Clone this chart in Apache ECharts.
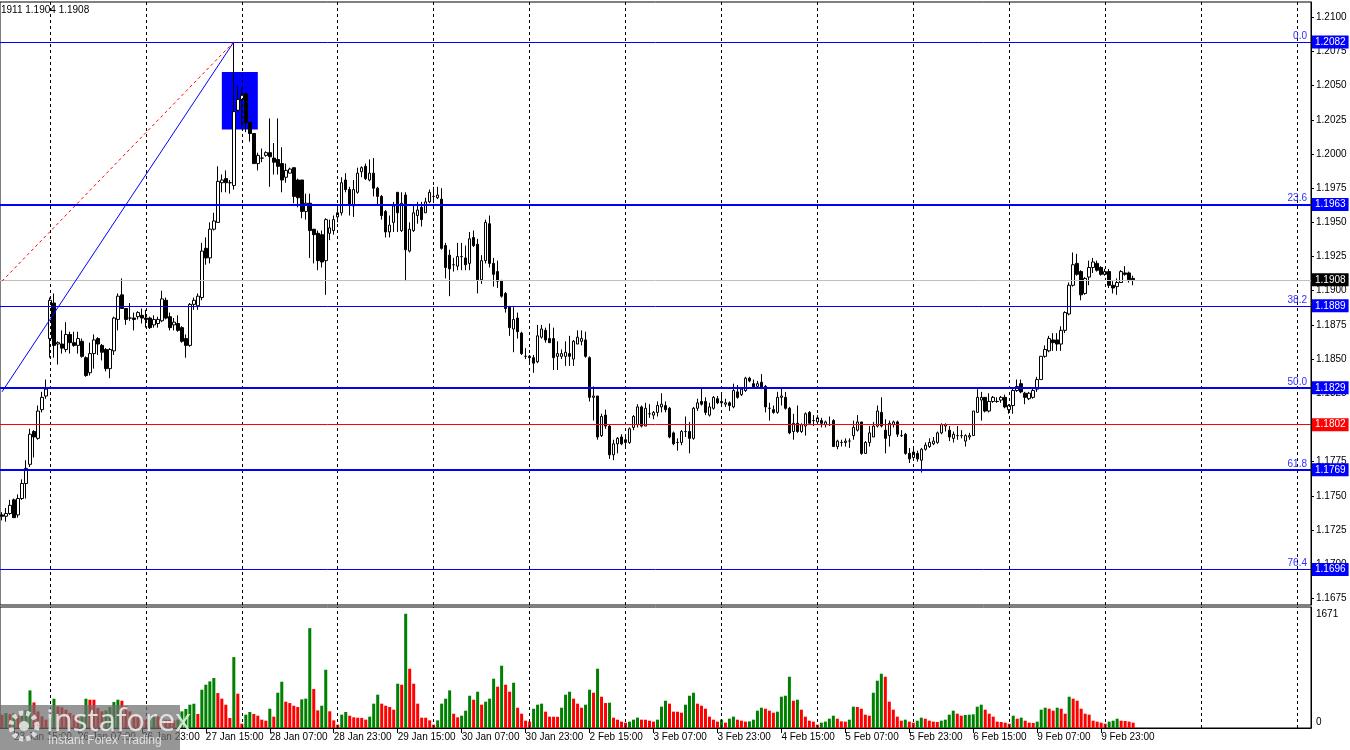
<!DOCTYPE html>
<html>
<head>
<meta charset="utf-8">
<title>EURUSD H1</title>
<script src="https://cdn.jsdelivr.net/npm/echarts@6/dist/echarts.min.js"></script>
<style>
  html, body { margin: 0; padding: 0; background: #fff; }
  #chart { width: 1350px; height: 750px; }
</style>
</head>
<body>
<div id="chart"></div>
<script>
// H1 bars: 23 Jan 12:00 .. 10 Feb 07:00 (weekends skipped)
const days = ['23 Jan', '26 Jan', '27 Jan', '28 Jan', '29 Jan', '30 Jan',
  '2 Feb', '3 Feb', '4 Feb', '5 Feb', '6 Feb', '9 Feb', '10 Feb']
const firstHour = 12
const lastHour = 7

const opens = [
  1.1736,1.1735,1.1737,1.1747,1.1736,1.1748,1.1759,1.1773,1.1797,1.1792,1.1813,1.1823,
  1.1865,1.1891,1.1861,1.1861,1.1857,1.1868,1.1862,1.1860,1.1863,1.1851,1.1840,1.1854,
  1.1865,1.1860,1.1857,1.1843,1.1856,1.1879,1.1897,1.1887,1.1880,1.1880,1.1881,1.1882,
  1.1880,1.1880,1.1875,1.1876,1.1878,1.1893,1.1881,1.1875,1.1876,1.1873,1.1865,1.1860,
  1.1890,1.1889,1.1895,1.1931,1.1924,1.1945,1.1950,1.1979,1.1982,1.1979,1.1977,1.2032,
  1.2040,1.2044,1.2023,1.2015,1.1993,1.1997,1.1999,1.2001,1.1997,1.1996,1.1993,1.1983,
  1.1986,1.1990,1.1981,1.1981,1.1958,1.1964,1.1945,1.1942,1.1941,1.1922,1.1942,1.1944,
  1.1954,1.1957,1.1981,1.1974,1.1962,1.1972,1.1987,1.1991,1.1981,1.1986,1.1975,1.1969,
  1.1958,1.1943,1.1950,1.1972,1.1944,1.1970,1.1929,1.1944,1.1955,1.1961,1.1957,1.1965,
  1.1969,1.1968,1.1967,1.1933,1.1926,1.1919,1.1918,1.1925,1.1924,1.1920,1.1939,1.1934,
  1.1908,1.1922,1.1949,1.1920,1.1914,1.1907,1.1898,1.1888,1.1872,1.1880,1.1869,1.1852,
  1.1852,1.1851,1.1848,1.1866,1.1871,1.1865,1.1865,1.1852,1.1852,1.1852,1.1854,1.1850,
  1.1861,1.1863,1.1864,1.1851,1.1822,1.1823,1.1794,1.1809,1.1801,1.1780,1.1788,1.1793,
  1.1789,1.1789,1.1800,1.1802,1.1815,1.1801,1.1810,1.1809,1.1811,1.1815,1.1816,1.1814,
  1.1796,1.1789,1.1789,1.1797,1.1797,1.1792,1.1814,1.1819,1.1819,1.1809,1.1814,1.1821,
  1.1819,1.1817,1.1818,1.1815,1.1826,1.1824,1.1827,1.1836,1.1832,1.1830,1.1833,1.1830,
  1.1814,1.1813,1.1811,1.1822,1.1822,1.1814,1.1797,1.1803,1.1797,1.1801,1.1811,1.1805,
  1.1804,1.1805,1.1802,1.1802,1.1805,1.1786,1.1789,1.1789,1.1790,1.1794,1.1798,1.1804,
  1.1781,1.1789,1.1793,1.1801,1.1811,1.1798,1.1794,1.1802,1.1804,1.1794,1.1795,1.1781,
  1.1778,1.1781,1.1776,1.1784,1.1786,1.1788,1.1789,1.1796,1.1801,1.1798,1.1792,1.1794,
  1.1794,1.1790,1.1793,1.1794,1.1811,1.1820,1.1822,1.1812,1.1819,1.1819,1.1820,1.1822,
  1.1813,1.1816,1.1827,1.1832,1.1825,1.1821,1.1822,1.1828,1.1835,1.1852,1.1856,1.1864,
  1.1864,1.1861,1.1871,1.1883,1.1904,1.1920,1.1914,1.1898,1.1910,1.1917,1.1920,1.1917,
  1.1912,1.1914,1.1904,1.1903,1.1906,1.1913,1.1913,1.1909
]
const closes = [
  1.1735,1.1737,1.1743,1.1734,1.1748,1.1759,1.1770,1.1795,1.1793,1.1812,1.1822,1.1828,
  1.1893,1.1860,1.1862,1.1858,1.1868,1.1862,1.1860,1.1865,1.1852,1.1838,1.1854,1.1864,
  1.1861,1.1855,1.1843,1.1857,1.1880,1.1896,1.1887,1.1879,1.1880,1.1879,1.1884,1.1880,
  1.1879,1.1873,1.1879,1.1879,1.1894,1.1880,1.1873,1.1877,1.1871,1.1863,1.1860,1.1890,
  1.1893,1.1896,1.1929,1.1924,1.1945,1.1951,1.1980,1.1981,1.1979,1.1979,1.2031,1.2040,
  1.2043,1.2023,1.2015,1.1993,1.1999,1.1997,1.2001,1.1998,1.1994,1.1991,1.1981,1.1988,
  1.1989,1.1969,1.1968,1.1958,1.1964,1.1944,1.1941,1.1922,1.1921,1.1952,1.1946,1.1952,
  1.1957,1.1979,1.1974,1.1963,1.1974,1.1986,1.1990,1.1982,1.1986,1.1975,1.1969,1.1955,
  1.1943,1.1948,1.1962,1.1957,1.1964,1.1930,1.1945,1.1957,1.1959,1.1952,1.1965,1.1972,
  1.1969,1.1970,1.1931,1.1917,1.1916,1.1919,1.1925,1.1925,1.1919,1.1938,1.1933,1.1908,
  1.1922,1.1950,1.1920,1.1912,1.1907,1.1896,1.1887,1.1873,1.1879,1.1870,1.1854,1.1852,
  1.1851,1.1847,1.1867,1.1872,1.1864,1.1862,1.1851,1.1854,1.1854,1.1855,1.1852,1.1863,
  1.1866,1.1865,1.1852,1.1822,1.1823,1.1793,1.1808,1.1801,1.1780,1.1788,1.1792,1.1788,
  1.1791,1.1799,1.1808,1.1815,1.1801,1.1814,1.1810,1.1811,1.1816,1.1817,1.1813,1.1793,
  1.1788,1.1789,1.1797,1.1797,1.1792,1.1814,1.1818,1.1817,1.1811,1.1815,1.1822,1.1818,
  1.1818,1.1818,1.1816,1.1827,1.1822,1.1828,1.1836,1.1834,1.1829,1.1832,1.1829,1.1815,
  1.1814,1.1811,1.1822,1.1823,1.1814,1.1796,1.1803,1.1797,1.1802,1.1810,1.1803,1.1805,
  1.1807,1.1803,1.1804,1.1802,1.1786,1.1790,1.1789,1.1790,1.1790,1.1800,1.1804,1.1781,
  1.1789,1.1796,1.1801,1.1812,1.1801,1.1792,1.1803,1.1804,1.1795,1.1794,1.1781,1.1777,
  1.1782,1.1777,1.1784,1.1787,1.1789,1.1790,1.1796,1.1802,1.1802,1.1793,1.1795,1.1794,
  1.1794,1.1794,1.1794,1.1812,1.1822,1.1822,1.1812,1.1819,1.1822,1.1819,1.1822,1.1815,
  1.1816,1.1827,1.1830,1.1826,1.1822,1.1825,1.1827,1.1835,1.1852,1.1857,1.1865,1.1862,
  1.1861,1.1871,1.1884,1.1904,1.1919,1.1912,1.1897,1.1909,1.1917,1.1921,1.1915,1.1912,
  1.1914,1.1904,1.1902,1.1906,1.1914,1.1912,1.1908,1.1908
]
const lows = [
  1.1732,1.1731,1.1736,1.1734,1.1734,1.1747,1.1748,1.1771,1.1778,1.1791,1.1811,1.1821,
  1.1851,1.1851,1.1846,1.1854,1.1855,1.1854,1.1859,1.1854,1.1851,1.1837,1.1838,1.1843,
  1.1853,1.1849,1.1841,1.1836,1.1853,1.1871,1.1887,1.1875,1.1878,1.1871,1.1879,1.1876,
  1.1873,1.1872,1.1873,1.1873,1.1877,1.1879,1.1871,1.1871,1.1870,1.1862,1.1851,1.1859,
  1.1886,1.1886,1.1893,1.1919,1.1920,1.1944,1.1950,1.1972,1.1972,1.1971,1.1974,1.2031,
  1.2020,1.2016,1.2009,1.1993,1.1988,1.1994,1.1998,1.1976,1.1985,1.1985,1.1972,1.1979,
  1.1986,1.1964,1.1961,1.1953,1.1952,1.1924,1.1920,1.1915,1.1917,1.1897,1.1937,1.1941,
  1.1950,1.1955,1.1972,1.1955,1.1954,1.1971,1.1983,1.1981,1.1980,1.1969,1.1963,1.1952,
  1.1939,1.1939,1.1943,1.1943,1.1943,1.1907,1.1928,1.1943,1.1949,1.1947,1.1957,1.1964,
  1.1964,1.1967,1.1930,1.1909,1.1896,1.1914,1.1915,1.1915,1.1915,1.1915,1.1932,1.1898,
  1.1905,1.1920,1.1917,1.1903,1.1902,1.1895,1.1884,1.1867,1.1855,1.1865,1.1853,1.1850,
  1.1846,1.1840,1.1847,1.1865,1.1862,1.1862,1.1842,1.1842,1.1850,1.1845,1.1845,1.1845,
  1.1861,1.1860,1.1851,1.1819,1.1805,1.1791,1.1793,1.1799,1.1777,1.1776,1.1781,1.1787,
  1.1786,1.1788,1.1798,1.1800,1.1800,1.1801,1.1807,1.1806,1.1808,1.1811,1.1811,1.1792,
  1.1787,1.1783,1.1787,1.1793,1.1781,1.1791,1.1812,1.1816,1.1809,1.1808,1.1813,1.1817,
  1.1816,1.1815,1.1812,1.1814,1.1821,1.1823,1.1826,1.1833,1.1829,1.1829,1.1828,1.1811,
  1.1805,1.1810,1.1810,1.1816,1.1813,1.1795,1.1791,1.1796,1.1796,1.1794,1.1803,1.1801,
  1.1803,1.1800,1.1800,1.1801,1.1786,1.1784,1.1786,1.1786,1.1785,1.1791,1.1797,1.1780,
  1.1781,1.1786,1.1793,1.1800,1.1800,1.1781,1.1786,1.1800,1.1793,1.1793,1.1780,1.1774,
  1.1776,1.1775,1.1767,1.1783,1.1785,1.1787,1.1788,1.1795,1.1797,1.1790,1.1789,1.1791,
  1.1792,1.1786,1.1791,1.1794,1.1811,1.1805,1.1811,1.1811,1.1818,1.1818,1.1818,1.1814,
  1.1810,1.1810,1.1826,1.1825,1.1817,1.1820,1.1821,1.1826,1.1835,1.1851,1.1855,1.1856,
  1.1856,1.1856,1.1869,1.1882,1.1903,1.1911,1.1893,1.1897,1.1904,1.1913,1.1914,1.1911,
  1.1911,1.1902,1.1898,1.1897,1.1906,1.1911,1.1906,1.1904
]
const highs = [
  1.1738,1.1741,1.1747,1.1748,1.1751,1.1762,1.1776,1.1799,1.1798,1.1816,1.1826,1.1835,
  1.1895,1.1898,1.1863,1.1871,1.1877,1.1870,1.1870,1.1870,1.1865,1.1852,1.1862,1.1868,
  1.1866,1.1861,1.1858,1.1858,1.1881,1.1898,1.1909,1.1887,1.1891,1.1884,1.1885,1.1887,
  1.1886,1.1881,1.1882,1.1881,1.1900,1.1895,1.1884,1.1880,1.1882,1.1874,1.1868,1.1891,
  1.1895,1.1898,1.1935,1.1939,1.1950,1.1957,1.1991,1.1985,1.1988,1.1981,1.2082,1.2050,
  1.2048,1.2045,1.2023,1.2015,1.2001,1.2004,1.2002,1.2026,1.2008,1.2026,1.2005,1.1993,
  1.1990,1.1990,1.1982,1.1981,1.1971,1.1971,1.1945,1.1944,1.1944,1.1953,1.1952,1.1955,
  1.1963,1.1983,1.1986,1.1976,1.1981,1.1990,1.1991,1.1993,1.1996,1.1997,1.1976,1.1970,
  1.1959,1.1955,1.1965,1.1972,1.1972,1.1972,1.1950,1.1963,1.1965,1.1965,1.1968,1.1974,
  1.1976,1.1976,1.1975,1.1935,1.1930,1.1924,1.1935,1.1935,1.1933,1.1943,1.1944,1.1938,
  1.1926,1.1952,1.1955,1.1924,1.1922,1.1908,1.1899,1.1889,1.1888,1.1884,1.1870,1.1858,
  1.1853,1.1853,1.1875,1.1875,1.1873,1.1876,1.1873,1.1863,1.1857,1.1863,1.1867,1.1864,
  1.1871,1.1871,1.1870,1.1852,1.1830,1.1823,1.1810,1.1813,1.1802,1.1791,1.1793,1.1795,
  1.1793,1.1800,1.1809,1.1817,1.1816,1.1818,1.1817,1.1812,1.1819,1.1825,1.1819,1.1815,
  1.1797,1.1792,1.1798,1.1808,1.1804,1.1815,1.1821,1.1829,1.1822,1.1818,1.1823,1.1823,
  1.1825,1.1821,1.1819,1.1832,1.1831,1.1829,1.1837,1.1837,1.1835,1.1834,1.1839,1.1831,
  1.1818,1.1816,1.1826,1.1829,1.1826,1.1815,1.1810,1.1816,1.1803,1.1811,1.1812,1.1809,
  1.1809,1.1807,1.1805,1.1808,1.1806,1.1791,1.1791,1.1792,1.1792,1.1805,1.1809,1.1804,
  1.1790,1.1801,1.1804,1.1816,1.1822,1.1806,1.1805,1.1805,1.1805,1.1798,1.1796,1.1785,
  1.1785,1.1783,1.1785,1.1789,1.1792,1.1793,1.1797,1.1803,1.1803,1.1801,1.1797,1.1801,
  1.1798,1.1795,1.1796,1.1812,1.1828,1.1826,1.1822,1.1825,1.1823,1.1822,1.1823,1.1824,
  1.1817,1.1829,1.1835,1.1835,1.1826,1.1826,1.1829,1.1837,1.1852,1.1860,1.1867,1.1869,
  1.1869,1.1874,1.1885,1.1906,1.1928,1.1927,1.1915,1.1910,1.1922,1.1924,1.1922,1.1918,
  1.1916,1.1916,1.1907,1.1909,1.1915,1.1918,1.1914,1.1911
]
const volumes = [
  194,219,200,219,180,210,260,550,374,243,170,122,
  146,428,316,302,268,219,185,146,170,428,414,414,
  292,243,258,307,380,414,399,316,243,194,170,131,
  121,146,194,170,146,121,121,110,122,243,278,341,
  355,205,560,633,682,731,511,429,341,146,1037,502,
  63,195,234,205,180,122,107,282,166,516,677,385,
  365,326,307,419,429,1461,570,258,326,852,244,112,
  49,195,234,180,156,150,148,122,166,356,487,356,
  326,307,268,648,633,1671,867,648,356,151,150,112,
  49,112,356,429,550,209,156,180,253,472,414,531,
  341,385,429,721,604,911,633,531,662,297,209,107,
  93,282,341,356,239,166,165,164,297,487,531,429,
  356,297,341,560,516,867,458,365,370,151,122,93,
  78,93,122,151,122,121,107,93,122,312,399,356,
  239,238,224,341,472,516,356,326,282,166,122,93,
  122,78,136,166,122,107,93,97,122,253,297,282,
  253,224,239,458,472,750,399,414,268,166,107,93,
  49,78,93,136,180,136,97,93,122,312,307,282,
  195,180,516,692,794,750,385,268,166,107,122,93,
  78,107,151,136,107,93,88,107,122,195,253,209,
  180,190,195,200,312,341,268,209,166,93,88,78,
  63,180,136,151,107,78,73,93,268,297,282,253,
  297,282,209,458,429,399,282,209,195,107,93,78,
  63,93,107,136,107,102,93,78
]

// price scale tick labels and drawn levels
const priceTicks = [1.2100, 1.2075, 1.2050, 1.2025, 1.2000, 1.1975, 1.1950, 1.1925,
  1.1900, 1.1875, 1.1850, 1.1825, 1.1800, 1.1775, 1.1750, 1.1725, 1.1700, 1.1675]
const volumeTicks = [0, 1671]
const fibLevels = ['0.0', '23.6', '38.2', '50.0', '61.8', '76.4']
const fibPrices = [1.2082, 1.1963, 1.1889, 1.1829, 1.1769, 1.1696]
const supportLevel = 1.1802
const lastPrice = 1.1908
const trendStart = 1.1826
const dashedStart = 1.1907
const boxFrom = ['27 Jan 19:00', 1.2060]
const boxTo = ['28 Jan 04:00', 1.2018]
const headerText = '1911 1.1904 1.1908'

const FONT = '"Liberation Sans", Arial, sans-serif'
const SLOTS = 328
const HIDDEN = 'rgba(0,0,0,0)'

const categories = []
days.forEach((d, k) => {
  const from = k === 0 ? firstHour : 0
  const to = k === days.length - 1 ? lastHour : 23
  for (let h = from; h <= to; h++) categories.push(d + ' ' + String(h).padStart(2, '0') + ':00')
})
const nBars = categories.length
for (let i = nBars; i < SLOTS; i++) categories.push('slot ' + i)

const candles = opens.map((o, i) => [o, closes[i], lows[i], highs[i]])
const topIdx = highs.indexOf(Math.max(...highs))

const daySeps = []
categories.forEach((c, i) => { if (c.endsWith(' 00:00')) daySeps.push(i) })
for (let i = daySeps[daySeps.length - 1] + 24; i < SLOTS; i += 24) daySeps.push(i)

const volData = volumes.map((v, i) => ({
  value: v,
  itemStyle: { color: i > 0 && v > volumes[i - 1] ? '#008000' : '#ff0000' }
}))

const showLabel = (i) => i < nBars && (i - 3) % 16 === 0

// coloured price tag on the right scale
const priceBox = (price, bg) => ({
  yAxis: price,
  lineStyle: { color: HIDDEN, width: 1, type: 'solid' },
  label: {
    show: true, position: 'end', distance: 1,
    formatter: price.toFixed(4),
    color: '#fff', backgroundColor: bg,
    fontFamily: FONT, fontSize: 10, padding: [2, 3, 1, 3]
  }
})

const levelLines = []
fibLevels.forEach((lv, k) => {
  const thick = lv === '23.6' || lv === '50.0' || lv === '61.8'
  levelLines.push({
    yAxis: fibPrices[k],
    lineStyle: { color: '#0000ff', width: thick ? 2 : 1, type: 'solid' },
    label: {
      show: true, position: 'insideEndTop', distance: 1,
      formatter: lv, color: '#3030ff', fontFamily: FONT, fontSize: 10, padding: [0, 3, 0, 0]
    }
  })
})
levelLines.push({ yAxis: supportLevel, lineStyle: { color: '#ff0000', width: 1, type: 'solid' }, label: { show: false } })
levelLines.push({ yAxis: lastPrice, lineStyle: { color: '#c0c0c0', width: 1, type: 'solid' }, label: { show: false } })
levelLines.push([
  { coord: [categories[0], trendStart], lineStyle: { color: '#0000ff', width: 1, type: 'solid' }, label: { show: false } },
  { coord: [categories[topIdx], fibPrices[0]] }
])
levelLines.push([
  { coord: [categories[0], dashedStart], lineStyle: { color: '#ff0000', width: 1, type: [3, 3] }, label: { show: false } },
  { coord: [categories[topIdx], fibPrices[0]] }
])

const tagLines = fibPrices.map(p => priceBox(p, '#0000ff'))
tagLines.push(priceBox(supportLevel, '#ff0000'))
tagLines.push(priceBox(lastPrice, '#000'))

const gridLines = () => ({
  silent: true, symbol: 'none', animation: false,
  label: { show: false },
  lineStyle: { color: '#000', width: 1, type: [3, 3] },
  data: daySeps.map(i => ({ xAxis: categories[i] }))
})

const chart = echarts.init(document.getElementById('chart'))
chart.setOption({
  animation: false,
  backgroundColor: '#fff',
  textStyle: { fontFamily: FONT },
  grid: [
    { left: -1, width: SLOTS * 4, top: 2, height: 603, show: true, borderColor: '#000', borderWidth: 1, backgroundColor: '#fff' },
    { left: -1, width: SLOTS * 4, top: 607, height: 121, show: true, borderColor: '#000', borderWidth: 1, backgroundColor: '#fff' }
  ],
  xAxis: [
    {
      gridIndex: 0, type: 'category', data: categories, boundaryGap: true,
      axisLine: { show: false }, axisTick: { show: false }, axisLabel: { show: false }, splitLine: { show: false }
    },
    {
      gridIndex: 1, type: 'category', data: categories, boundaryGap: true,
      axisLine: { show: true, lineStyle: { color: '#000' } },
      axisTick: { show: true, alignWithLabel: true, interval: showLabel, length: 5, lineStyle: { color: '#000' } },
      axisLabel: { interval: showLabel, align: 'left', margin: 4, color: '#000', fontSize: 10, fontFamily: FONT },
      splitLine: { show: false }
    }
  ],
  yAxis: [
    {
      gridIndex: 0, type: 'value', position: 'right', min: 1.16701, max: 1.21112,
      axisLine: { show: true, lineStyle: { color: '#000' } },
      axisTick: { show: true, length: 3, customValues: priceTicks, lineStyle: { color: '#000' } },
      axisLabel: { customValues: priceTicks, formatter: v => v.toFixed(4), margin: 5, color: '#000', fontSize: 10, fontFamily: FONT },
      splitLine: { show: false }
    },
    {
      gridIndex: 1, type: 'value', position: 'right', min: 0, max: 1770,
      axisLine: { show: true, lineStyle: { color: '#000' } },
      axisTick: { show: false },
      axisLabel: {
        customValues: volumeTicks, margin: 5, color: '#000', fontSize: 10, fontFamily: FONT,
        formatter: v => v === 0 ? '{lo|0}' : String(v),
        rich: { lo: { fontSize: 10, fontFamily: FONT, color: '#000', padding: [0, 0, 12, 0] } }
      },
      splitLine: { show: false }
    }
  ],
  series: [
    {
      name: 'grid', type: 'line', xAxisIndex: 0, yAxisIndex: 0, data: [], z: 1,
      markLine: gridLines(),
      markArea: {
        silent: true,
        itemStyle: { color: '#0000ff', opacity: 1 },
        data: [[{ coord: boxFrom }, { coord: boxTo }]]
      }
    },
    {
      name: 'EURUSD', type: 'candlestick', xAxisIndex: 0, yAxisIndex: 0, z: 2,
      data: candles, barWidth: 3,
      itemStyle: { color: '#fff', color0: '#000', borderColor: '#000', borderColor0: '#000', borderWidth: 1 }
    },
    {
      name: 'levels', type: 'line', xAxisIndex: 0, yAxisIndex: 0, data: [], z: 3,
      markLine: { silent: true, symbol: 'none', animation: false, precision: 4, data: levelLines }
    },
    {
      name: 'tags', type: 'line', xAxisIndex: 0, yAxisIndex: 0, data: [], z: 4,
      markLine: { silent: true, symbol: 'none', animation: false, precision: 4, data: tagLines }
    },
    {
      name: 'grid2', type: 'line', xAxisIndex: 1, yAxisIndex: 1, data: [], z: 1,
      markLine: gridLines()
    },
    {
      name: 'Volumes', type: 'bar', xAxisIndex: 1, yAxisIndex: 1, z: 2,
      data: volData, barWidth: 3
    }
  ],
  graphic: [
    { type: 'text', x: 1, y: 5, z: 10, style: { text: headerText, fill: '#000', font: '10px ' + FONT } },
    { type: 'rect', x: 0, y: 705, z: 20, shape: { width: 180, height: 45 }, style: { fill: 'rgba(110,110,110,0.72)' } },
    { type: 'circle', x: 24, y: 726, z: 21, shape: { r: 13 }, style: { fill: 'none', stroke: 'rgba(235,235,235,0.85)', lineWidth: 5, lineDash: [4, 3] } },
    { type: 'circle', x: 24, y: 726, z: 21, shape: { r: 5 }, style: { fill: 'rgba(235,235,235,0.85)' } },
    { type: 'text', x: 46, y: 707, z: 21, style: { text: 'instaforex', fill: 'rgba(240,240,240,0.85)', font: '31px "Open Sans", ' + FONT } },
    { type: 'text', x: 48, y: 735, z: 21, style: { text: 'Instant Forex Trading', fill: 'rgba(235,235,235,0.85)', font: '12px ' + FONT } }
  ]
})
</script>
</body>
</html>
